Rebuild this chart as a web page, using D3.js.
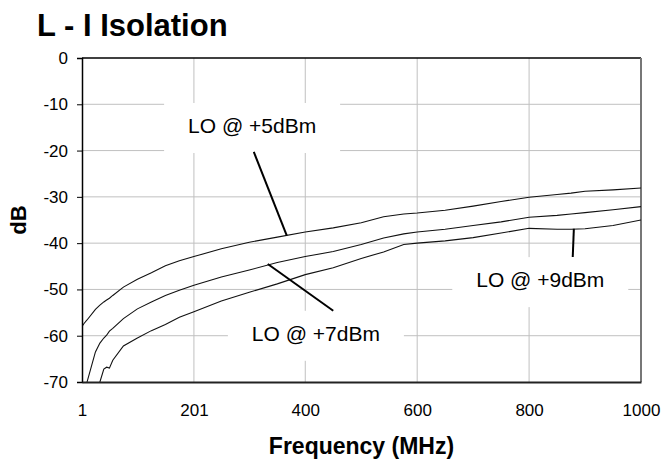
<!DOCTYPE html>
<html>
<head>
<meta charset="utf-8">
<script src="https://cdn.jsdelivr.net/npm/d3@7"></script>
<style>
  body { margin: 0; background: #fff; }
  text { font-family: "Liberation Sans", Arial, sans-serif; fill: #000; }
</style>
</head>
<body>
<div id="chart"></div>
<script>
// frequency points (MHz) and isolation (dB)
const freq = [1, 5, 10, 25, 33, 40, 45, 50, 56, 75, 100, 125, 150, 175, 201, 250, 300, 350, 400, 450, 500, 540, 576, 600, 650, 700, 750, 800, 850, 875, 900, 950, 1000];
const lo5 = [-58, -57.3, -56.6, -54.3, -53.4, -52.7, -52.3, -51.9, -51.3, -49.5, -47.8, -46.4, -44.9, -43.8, -42.9, -41.2, -39.8, -38.7, -37.6, -36.7, -35.6, -34.3, -33.7, -33.5, -32.9, -32.0, -31.0, -30.1, -29.5, -29.2, -28.8, -28.5, -28.1];
const lo7 = [-82, -74, -70, -63.5, -61.6, -60.5, -59.9, -59.0, -58.4, -56.3, -54.2, -52.7, -51.3, -50.2, -49.1, -47.3, -45.8, -44.2, -42.9, -41.8, -40.3, -38.9, -38.0, -37.6, -37.0, -36.2, -35.4, -34.4, -34.0, -33.7, -33.4, -32.8, -32.1];
const lo9 = [-92, -85, -80, -73, -70, -67.2, -66.8, -67.0, -65.3, -62.2, -60.5, -58.9, -57.6, -56.0, -54.8, -52.5, -50.6, -48.8, -46.8, -45.3, -43.3, -41.9, -40.3, -40.0, -39.5, -38.8, -37.8, -36.8, -37.0, -37.0, -36.9, -36.2, -35.0];
const seriesNames = ["LO @ +5dBm", "LO @ +7dBm", "LO @ +9dBm"];
const xTicks = [1, 201, 400, 600, 800, 1000];
const yTicks = [0, -10, -20, -30, -40, -50, -60, -70];

// annotation anchors in data units: label centre/baseline, leader start and end
const labelAt = [[305, -16.2], [419, -61.1], [820, -49.5]];
const leaderFrom = [[308, -20.3], [333, -44.5], [880, -36.9]];
const leaderTo = [[367, -38.4], [450, -54.6], [878, -43.0]];

const W = 662, H = 460;
const margin = { top: 58, right: 21, bottom: 78, left: 82 };
const width = W - margin.left - margin.right;
const height = H - margin.top - margin.bottom;

const svg = d3.select("#chart").append("svg")
    .attr("width", W)
    .attr("height", H);

const x = d3.scaleLinear().domain([1, 1000]).range([0, width]);
const y = d3.scaleLinear().domain([-70, 0]).range([height, 0]);

const g = svg.append("g").attr("transform", `translate(${margin.left},${margin.top})`);

svg.append("defs").append("clipPath").attr("id", "plot")
    .append("rect").attr("width", width).attr("height", height);

// grid
g.append("g").selectAll("line")
    .data(yTicks.filter(d => d > -70 && d < 0))
    .enter().append("line")
    .attr("x1", 0).attr("x2", width)
    .attr("y1", d => y(d)).attr("y2", d => y(d))
    .attr("stroke", "#c0c0c0").attr("stroke-width", 1);

g.append("g").selectAll("line")
    .data(xTicks.slice(1, -1))
    .enter().append("line")
    .attr("x1", d => x(d)).attr("x2", d => x(d))
    .attr("y1", 0).attr("y2", height)
    .attr("stroke", "#c0c0c0").attr("stroke-width", 1);

// frame
g.append("line").attr("x1", 0).attr("x2", width).attr("y1", 0).attr("y2", 0)
    .attr("stroke", "#000").attr("stroke-width", 1.3);
g.append("line").attr("x1", width).attr("x2", width).attr("y1", 0).attr("y2", height)
    .attr("stroke", "#777").attr("stroke-width", 2);

// curves
const line = d3.line()
    .x((d, i) => x(freq[i]))
    .y(d => y(d));

g.append("g").attr("clip-path", "url(#plot)")
    .selectAll("path")
    .data([lo5, lo7, lo9])
    .enter().append("path")
    .attr("d", line)
    .attr("fill", "none")
    .attr("stroke", "#111")
    .attr("stroke-width", 1.1);

// axes (plain hyphen and no thousands separator, as in the original)
const yAxis = g.append("g")
    .call(d3.axisLeft(y).tickValues(yTicks).tickSize(5).tickPadding(9).tickFormat(d => String(d)));
yAxis.select(".domain").attr("stroke", "#000").attr("stroke-width", 1.5);
yAxis.selectAll(".tick line").attr("stroke", "#000");
yAxis.selectAll("text").style("font-size", "17px");

const xAxis = g.append("g")
    .attr("transform", `translate(0,${height})`)
    .call(d3.axisBottom(x).tickValues(xTicks).tickSize(0).tickPadding(22).tickFormat(d => String(d)));
xAxis.select(".domain").attr("stroke", "#222").attr("stroke-width", 1.8);
xAxis.selectAll("text").style("font-size", "17px");

// annotations: white box behind label, leader line, text
const notes = g.append("g");
seriesNames.forEach((name, i) => {
    const cx = x(labelAt[i][0]), by = y(labelAt[i][1]);
    notes.append("rect")
        .attr("x", cx - 88).attr("y", by - 30)
        .attr("width", 176).attr("height", 50)
        .attr("fill", "#fff");
    notes.append("line")
        .attr("x1", x(leaderFrom[i][0])).attr("y1", y(leaderFrom[i][1]))
        .attr("x2", x(leaderTo[i][0])).attr("y2", y(leaderTo[i][1]))
        .attr("stroke", "#000").attr("stroke-width", 2);
    notes.append("text")
        .attr("x", cx).attr("y", by)
        .attr("text-anchor", "middle")
        .style("font-size", "21px")
        .text(name);
});

// titles
svg.append("text")
    .attr("x", 37).attr("y", 36)
    .style("font-size", "31px").style("font-weight", "bold")
    .text("L - I Isolation");

svg.append("text")
    .attr("x", margin.left + width / 2).attr("y", 454)
    .attr("text-anchor", "middle")
    .style("font-size", "23px").style("font-weight", "bold")
    .text("Frequency (MHz)");

svg.append("text")
    .attr("transform", `translate(26,${margin.top + height / 2}) rotate(-90)`)
    .attr("text-anchor", "middle")
    .style("font-size", "22px").style("font-weight", "bold")
    .text("dB");
</script>
</body>
</html>
